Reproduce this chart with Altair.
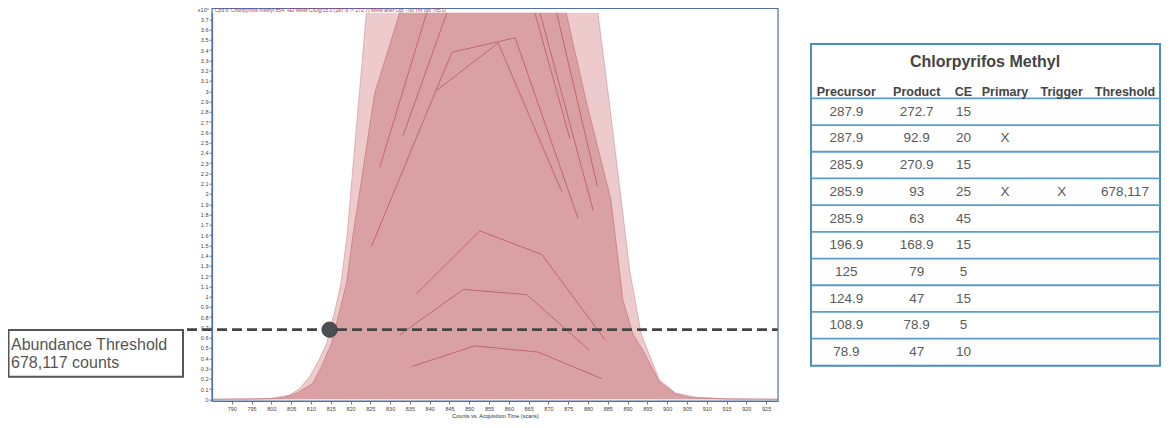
import altair as alt
import pandas as pd

# ---------------- chromatogram data (scan, counts x10^6) ----------------
outer_scan = [785, 795, 800, 804.6, 807, 809.7, 812, 814.0, 816.1, 817.6, 819.2, 819.9, 824, 828, 850,
              878, 882.5, 885.3, 888.4, 890.5, 893.4, 898, 902.2, 907.3, 915, 928]
outer_val = [0, 0.003, 0.01, 0.04, 0.1, 0.22, 0.38, 0.545, 0.87, 1.13, 1.62, 1.94, 3.76, 4.8, 5.6,
             4.8, 3.76, 2.91, 1.94, 1.26, 0.64, 0.19, 0.06, 0.02, 0.005, 0]

inner_scan = [785, 800, 803, 806.5, 810.5, 812.7, 815.2, 817.3, 819.0, 820.7, 822.0, 826.1, 832.4, 840,
              860, 870, 874.5, 879.5, 885.8, 888.8, 891.3, 893.8, 898, 902.2, 906, 915, 928]
inner_val = [0, 0.005, 0.015, 0.06, 0.156, 0.32, 0.545, 0.87, 1.13, 1.62, 1.94, 2.98, 3.76, 4.5,
             4.8, 4.4, 3.76, 2.91, 1.94, 0.97, 0.64, 0.48, 0.17, 0.05, 0.015, 0.003, 0]

trace_names = ["A", "B", "C", "D", "E", "F", "G", "H", "I", "J"]
trace_scans = [
    [825.3, 845.6, 861.6, 877.5],
    [841.8, 857.3, 873.4],
    [827.4, 839.2],
    [833.3, 844.3],
    [866.6, 875.4],
    [867.9, 881.3],
    [872.1, 882.4],
    [836.7, 852.7, 868.3, 884.3],
    [832.5, 848.5, 864.5, 880.3],
    [835.5, 851.4, 867.4, 883.5],
]
trace_vals = [
    [1.49, 3.38, 3.52, 1.76],
    [3.01, 3.47, 2.02],
    [2.26, 3.76],
    [2.57, 3.76],
    [3.76, 2.54],
    [3.76, 1.84],
    [3.76, 2.07],
    [1.03, 1.64, 1.41, 0.58],
    [0.63, 1.07, 1.02, 0.48],
    [0.32, 0.52, 0.46, 0.20],
]

threshold_value = 0.678117
threshold_scan = 814.7

x_ticks = [790, 795, 800, 805, 810, 815, 820, 825, 830, 835, 840, 845, 850, 855, 860, 865, 870,
           875, 880, 885, 890, 895, 900, 905, 910, 915, 920, 925]
y_ticks = [0, 0.1, 0.2, 0.3, 0.4, 0.5, 0.6, 0.7, 0.8, 0.9, 1, 1.1, 1.2, 1.3, 1.4, 1.5, 1.6, 1.7, 1.8,
           1.9, 2, 2.1, 2.2, 2.3, 2.4, 2.5, 2.6, 2.7, 2.8, 2.9, 3, 3.1, 3.2, 3.3, 3.4, 3.5, 3.6, 3.7]

plot_title = "Cpd 6: Chlorpyrifos-methyl 854: +EI MRM CID@15.0 (287.9 -> 272.7) MRM after Opt - no Thr opt Th5.D"
x_title = "Counts vs. Acquisition Time (scans)"
annot_lines = ["Abundance Threshold", "678,117 counts"]

# ---------------- table data ----------------
table_title = "Chlorpyrifos Methyl"
headers = ["Precursor", "Product", "CE", "Primary", "Trigger", "Threshold"]
precursor = ["287.9", "287.9", "285.9", "285.9", "285.9", "196.9", "125", "124.9", "108.9", "78.9"]
product = ["272.7", "92.9", "270.9", "93", "63", "168.9", "79", "47", "78.9", "47"]
ce = ["15", "20", "15", "25", "45", "15", "5", "15", "5", "10"]
primary = ["", "X", "", "X", "", "", "", "", "", ""]
trigger = ["", "", "", "X", "", "", "", "", "", ""]
threshold = ["", "", "", "678,117", "", "", "", "", "", ""]
rows = [0, 1, 2, 3, 4, 5, 6, 7, 8, 9]

# ---------------- layout (pixels, relative to plot origin) ----------------
W, H = 566, 388.3
col_x = [634.3, 704.7, 751.5, 793, 849.7, 913]
FONT = "Liberation Sans"

df_outer = pd.DataFrame({"scan": outer_scan, "val": outer_val})
df_inner = pd.DataFrame({"scan": inner_scan, "val": inner_val})
tr = []
for n, s, v in zip(trace_names, trace_scans, trace_vals):
    for a, b in zip(s, v):
        tr.append({"series": n, "scan": a, "val": b})
df_traces = pd.DataFrame(tr)
df_thr = pd.DataFrame({"scan": [threshold_scan], "val": [threshold_value]})
df_table = pd.DataFrame({"row": rows, "Precursor": precursor, "Product": product, "CE": ce,
                         "Primary": primary, "Trigger": trigger, "Threshold": threshold})
one = pd.DataFrame({"k": [0]})

xs = alt.Scale(domain=[785, 928], nice=False, zero=False)
ys = alt.Scale(domain=[-0.0166, 3.765], nice=False, zero=False)
row_scale = alt.Scale(domain=[0, 9], range=[99, 339.3], nice=False, zero=False)

AX = "#4f6fa8"
x_axis = alt.Axis(values=x_ticks, title=x_title, labelFontSize=5.5, labelColor="#444",
                  labelFont=FONT, titleFont=FONT, titleFontSize=5.5, titleFontWeight="normal",
                  titleColor="#333", titlePadding=2, tickSize=3, tickColor="#777",
                  domainColor=AX, domainWidth=1.2, labelPadding=2, grid=False)
y_axis = alt.Axis(values=y_ticks, format="~g", title=None, labelFontSize=5.5, labelColor="#444",
                  labelFont=FONT, tickSize=3, tickColor="#777", domainColor=AX, domainWidth=1.2,
                  labelPadding=1, grid=False)

X = alt.X("scan:Q", scale=xs, axis=x_axis)
Y0 = alt.Y("val:Q", scale=ys, axis=y_axis)
Y = alt.Y("val:Q", scale=ys, axis=None)

outer = alt.Chart(df_outer).mark_area(
    color="#edcacb", opacity=1, clip=True, line={"color": "#dba2a6", "strokeWidth": 0.8}
).encode(x=X, y=Y0)

inner = alt.Chart(df_inner).mark_area(
    color="#d9a1a3", opacity=1, clip=True, line={"color": "#c97c83", "strokeWidth": 0.8}
).encode(x=X, y=Y)

traces = alt.Chart(df_traces).mark_line(color="#c0606a", strokeWidth=0.9, clip=True).encode(
    x=X, y=Y, detail="series:N")

thr_rule = alt.Chart(df_thr).mark_rule(color="#454545", strokeWidth=2.8, strokeDash=[10, 5]).encode(
    y=Y, x=alt.value(-25), x2=alt.value(W))

thr_dot = alt.Chart(df_thr).mark_point(filled=True, shape="circle", size=235, color="#4b4f53",
                                        opacity=1, stroke="#333", strokeWidth=0.8).encode(x=X, y=Y)

frame = alt.Chart(one).mark_rect(fillOpacity=0, stroke=AX, strokeWidth=1.2).encode(
    x=alt.value(0), x2=alt.value(W), y=alt.value(-4.2), y2=alt.value(H))

title_txt = alt.Chart(one).mark_text(text=plot_title, align="left", baseline="alphabetic", fontSize=5,
                                     color="#b23a48", font=FONT).encode(x=alt.value(3), y=alt.value(-0.8))
x10_txt = alt.Chart(one).mark_text(text="x10\u2076", align="right", baseline="alphabetic", fontSize=5.5,
                                   color="#444", font=FONT).encode(x=alt.value(-3), y=alt.value(-0.8))

# annotation box
annot_box = alt.Chart(one).mark_rect(fill="white", stroke="#555", strokeWidth=2).encode(
    x=alt.value(-203.5), x2=alt.value(-29), y=alt.value(317.3), y2=alt.value(364))
annot_t1 = alt.Chart(one).mark_text(text=annot_lines[0], align="left", baseline="middle", fontSize=16,
                                    color="#555", font=FONT).encode(x=alt.value(-201), y=alt.value(332.3))
annot_t2 = alt.Chart(one).mark_text(text=annot_lines[1], align="left", baseline="middle", fontSize=16,
                                    color="#555", font=FONT).encode(x=alt.value(-201), y=alt.value(350.6))

# table
TB = "#4a8fbf"
tbl_border = alt.Chart(one).mark_rect(fillOpacity=0, stroke=TB, strokeWidth=2).encode(
    x=alt.value(599), x2=alt.value(948), y=alt.value(31.3), y2=alt.value(353))
tbl_lines = alt.Chart(df_table).transform_calculate(edge="datum.row - 0.5").mark_rule(
    color="#5a9cc8", strokeWidth=1.8).encode(
    y=alt.Y("edge:Q", scale=row_scale, axis=None), x=alt.value(599), x2=alt.value(948))
tbl_title = alt.Chart(one).mark_text(text=table_title, align="center", baseline="middle", fontSize=16,
                                     fontWeight="bold", color="#444", font=FONT).encode(
    x=alt.value(773), y=alt.value(49))

layers = [outer, inner, traces, thr_rule, thr_dot, frame, title_txt, x10_txt,
          annot_box, annot_t1, annot_t2, tbl_border, tbl_lines, tbl_title]
for h, cx in zip(headers, col_x):
    layers.append(alt.Chart(one).mark_text(text=h, align="center", baseline="middle", fontSize=12.5,
                                           fontWeight="bold", color="#444", font=FONT).encode(
        x=alt.value(cx), y=alt.value(79)))
    layers.append(alt.Chart(df_table).mark_text(align="center", baseline="middle", fontSize=13.5,
                                                color="#5a5a5a", font=FONT).encode(
        x=alt.value(cx), y=alt.Y("row:Q", scale=row_scale, axis=None), text=f"{h}:N"))

chart = alt.layer(*layers).resolve_scale(y="independent").properties(
    width=W, height=H,
    autosize=alt.AutoSizeParams(type="none"),
    padding={"left": 204, "top": 4.7, "right": 385, "bottom": 19.0},
    background="white",
).configure_view(stroke=None)

chart.save("out.html", embed_options={"renderer": "svg", "actions": False})
